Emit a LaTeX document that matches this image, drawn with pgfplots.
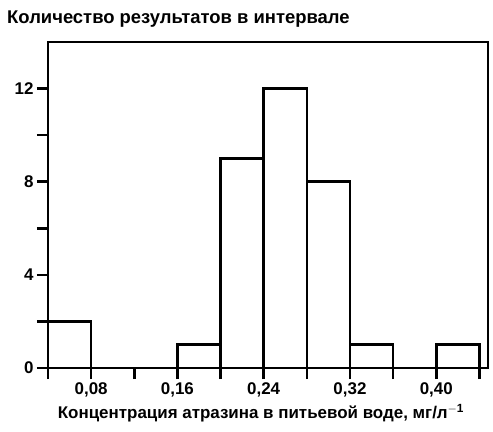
\documentclass[border=0pt]{standalone}
\usepackage{fontspec}
\setmainfont{Liberation Sans}
\usepackage{pgfplots}
\pgfplotsset{compat=1.18}
\begin{document}
\begin{tikzpicture}
\begin{axis}[
    scale only axis,
    width=440bp, height=326bp,
    xmin=0.04, xmax=0.448,
    ymin=0, ymax=14,
    axis line style={line width=2.6bp},
    every tick/.style={black, line width=2.6bp},
    tick align=outside,
    xtick pos=bottom, ytick pos=left,
    major tick length=11bp,
    minor tick length=11bp,
    xtick={0.08,0.16,0.24,0.32,0.40},
    minor xtick={0.04,0.12,0.20,0.28,0.36,0.44},
    ytick={0,4,8,12},
    minor ytick={2,6,10},
    xticklabel style={/pgf/number format/.cd, fixed, fixed zerofill, precision=2, use comma},
    /pgf/number format/assume math mode=true,
    tick label style={font=\fontsize{17}{19}\selectfont\bfseries},
    xticklabel shift=0bp,
    yticklabel shift=0bp,
    clip=false,
]
\addplot[ybar, bar width=0.04, bar shift=0pt, draw=black, fill=white, line width=2.6bp]
coordinates {
    (0.06, 2)
    (0.18, 1)
    (0.22, 9)
    (0.26, 12)
    (0.30, 8)
    (0.34, 1)
    (0.42, 1)
};
\end{axis}
\node[anchor=west, inner sep=0pt, font=\fontsize{18.5}{20}\selectfont\bfseries] at (-41bp, 349bp) {Количество результатов в интервале};
\node[anchor=north, inner sep=0pt, font=\fontsize{17}{19}\selectfont\bfseries] at (213bp, -36bp) {Концентрация атразина в питьевой воде, мг/л$^{\mathbf{-1}}$};
\pgfresetboundingbox
\path[use as bounding box] (-48bp, -64bp) rectangle (445bp, 368bp);
\end{tikzpicture}
\end{document}
